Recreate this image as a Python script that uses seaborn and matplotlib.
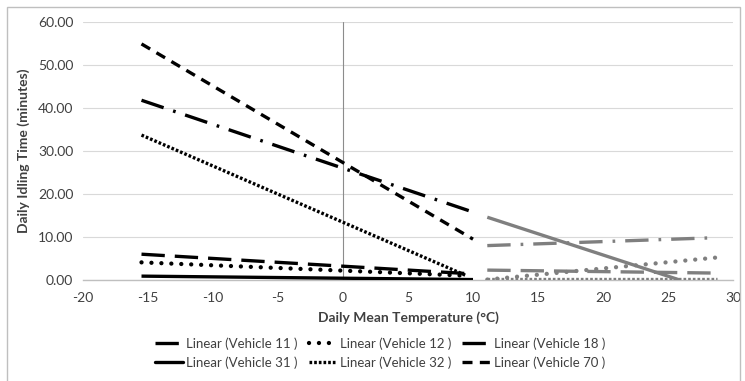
import matplotlib
matplotlib.use("Agg")
import matplotlib.pyplot as plt
import seaborn as sns
import pandas as pd
from matplotlib.lines import Line2D
from matplotlib.patches import Rectangle

# ---- data (trend-line end points) ----
vehicles = ["Vehicle 11", "Vehicle 12", "Vehicle 18", "Vehicle 31", "Vehicle 32", "Vehicle 70"]

# cold-season trend lines (black)
cold_x_start = [-15.5, -15.5, -15.5, -15.5, -15.5, -15.5]
cold_x_end = [10.0, 9.5, 9.5, 10.0, 9.5, 10.0]
cold_y_start = [41.8, 4.1, 6.0, 0.9, 33.7, 54.9]
cold_y_end = [15.8, 1.0, 1.5, 0.1, 1.0, 9.5]

# warm-season trend lines (grey)
warm_x_start = [11.1, 11.1, 11.1, 11.1, 11.1]
warm_x_end = [28.3, 29.0, 28.9, 25.9, 28.8]
warm_y_start = [8.0, 0.1, 2.3, 14.6, 0.2]
warm_y_end = [9.8, 5.3, 1.6, 0.0, 0.2]
warm_styles = ["Vehicle 11", "Vehicle 12", "Vehicle 18", "Vehicle 31", "Vehicle 32"]

x_ticks = [-20, -15, -10, -5, 0, 5, 10, 15, 20, 25, 30]
y_ticks = [0, 10, 20, 30, 40, 50, 60]

# ---- styles ----
LW = 2.4
dash_styles = {
    "Vehicle 11": ((0, (7.0, 3.0, 0.8, 3.0)), "butt", LW),
    "Vehicle 12": ((0, (0.01, 2.3)), "round", 3.1),
    "Vehicle 18": ((0, (7.0, 3.0)), "butt", LW),
    "Vehicle 31": ("-", "butt", LW),
    "Vehicle 32": ((0, (0.8, 0.6)), "butt", LW),
    "Vehicle 70": ((0, (3.0, 2.2)), "butt", LW),
}

sns.set_theme(style="white")
plt.rcParams["font.family"] = ["Lato", "DejaVu Sans"]
plt.rcParams["axes.unicode_minus"] = False

fig = plt.figure(figsize=(7.45, 3.81), dpi=100)
ax = fig.add_axes([83 / 745, 1 - 280 / 381, (733 - 83) / 745, (280 - 22) / 381])

ax.set_xlim(-20, 30)
ax.set_ylim(0, 60)
ax.set_xticks(x_ticks)
ax.set_yticks(y_ticks)
ax.set_yticklabels([f"{v:.2f}" for v in y_ticks])
ax.yaxis.grid(True, color="#d9d9d9", lw=0.8)
ax.xaxis.grid(False)
for s in ["top", "right", "left"]:
    ax.spines[s].set_visible(False)
ax.spines["bottom"].set_color("#bfbfbf")
ax.spines["bottom"].set_linewidth(1.0)
ax.axvline(0, color="#8c8c8c", lw=0.8, zorder=1)

handles = []
for i, v in enumerate(vehicles):
    df = pd.DataFrame({"x": [cold_x_start[i], cold_x_end[i]],
                       "y": [cold_y_start[i], cold_y_end[i]]})
    ls, cap, lw = dash_styles[v]
    n0 = len(ax.lines)
    sns.lineplot(data=df, x="x", y="y", ax=ax, color="black", lw=lw,
                 linestyle=ls, zorder=3)
    ln = ax.lines[n0]
    ln.set_dash_capstyle(cap)
    ln.set_solid_capstyle("butt")
    h = Line2D([0], [0], color="black", lw=lw, linestyle=ls)
    h.set_dash_capstyle(cap)
    handles.append(h)

for i, v in enumerate(warm_styles):
    df = pd.DataFrame({"x": [warm_x_start[i], warm_x_end[i]],
                       "y": [warm_y_start[i], warm_y_end[i]]})
    ls, cap, lw = dash_styles[v]
    n0 = len(ax.lines)
    sns.lineplot(data=df, x="x", y="y", ax=ax, color="#7f7f7f", lw=lw,
                 linestyle=ls, zorder=3)
    ln = ax.lines[n0]
    ln.set_dash_capstyle(cap)
    ln.set_solid_capstyle("butt")

ax.tick_params(axis="both", length=0, labelsize=10, colors="#404040")
ax.tick_params(axis="y", pad=7)
ax.tick_params(axis="x", pad=9)
ax.set_xlabel("Daily Mean Temperature (°C)", fontsize=10, fontweight="bold",
              color="#404040", labelpad=5)
ax.set_ylabel("Daily Idling Time (minutes)", fontsize=10, fontweight="bold",
              color="#404040", labelpad=6)

labels = [f"Linear ({v} )" for v in vehicles]
# matplotlib fills legend columns first; reorder so rows read 11,12,18 / 31,32,70
order = [0, 3, 1, 4, 2, 5]
leg = fig.legend([handles[k] for k in order], [labels[k] for k in order],
                 loc="center", ncol=3,
                 bbox_to_anchor=(380 / 745, 1 - 353 / 381), frameon=False,
                 fontsize=9.5, handlelength=2.1, handletextpad=0.3,
                 columnspacing=0.8, labelspacing=0.45)
for t in leg.get_texts():
    t.set_color("#404040")

fig.patches.append(Rectangle((7 / 745, -0.05), (740 - 7) / 745, 1.05 - 7 / 381,
                             transform=fig.transFigure, fill=False,
                             edgecolor="#bfbfbf", lw=1.0))

fig.savefig("out.png", dpi=100)
